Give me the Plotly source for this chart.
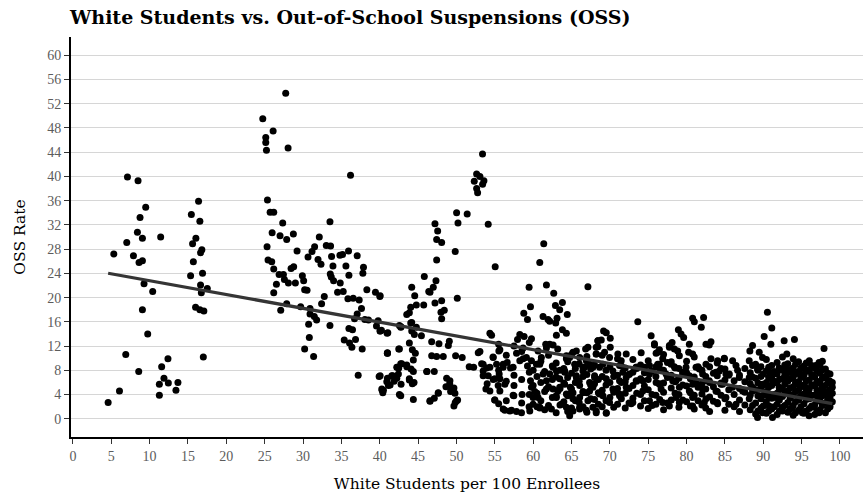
import numpy as np
import plotly.graph_objects as go

# Districts with few white students (under 20 per 100)
white_low = [7.11, 8.49, 9.49, 8.75, 8.41, 9.06, 7.02, 5.33, 7.89, 8.62,
             9.06, 11.44, 9.27, 10.40, 9.06, 9.75, 6.89, 8.58, 11.57, 12.39,
             11.87, 11.27, 12.44, 13.69, 13.43, 11.27, 6.07, 4.59,
             16.38, 15.44, 16.55, 16.03, 15.60, 16.81, 16.64, 15.70, 15.34, 16.90,
             16.64, 17.52, 16.74, 15.99, 16.55, 17.07, 17.00]
oss_low = [39.9, 39.3, 34.9, 33.2, 30.8, 29.8, 29.1, 27.2, 26.9, 25.8,
           26.1, 30.0, 22.3, 21.0, 18.0, 14.0, 10.6, 7.8, 8.6, 9.9,
           6.7, 5.7, 5.9, 6.0, 4.7, 3.9, 4.6, 2.7,
           35.9, 33.7, 32.6, 29.8, 28.9, 27.9, 27.4, 25.9, 23.6, 24.0,
           22.1, 21.5, 20.8, 18.4, 18.0, 17.8, 10.2]

# Districts between roughly 24 and 43 white students per 100
white_mid1 = [27.74, 24.75, 26.10, 25.14, 25.14, 25.23, 28.05, 36.19, 25.36, 25.71,
              26.18, 27.35, 25.97, 27.00, 27.87, 28.74, 25.31, 29.22, 25.44, 25.92,
              26.18, 28.44, 28.78, 26.88, 27.44, 27.57, 28.09, 26.53, 29.00, 26.18,
              27.87, 27.09, 29.69, 29.91, 30.08, 30.21, 30.52, 30.65, 31.17, 31.51,
              32.12, 31.95, 32.34, 33.51, 33.03, 33.59, 33.72, 34.81, 35.15, 35.93,
              37.06, 33.90, 35.59, 37.88, 37.80, 33.55, 33.68, 33.98, 35.98, 34.85,
              34.50, 35.24, 38.32, 39.44, 40.01, 32.77, 35.85, 36.54, 37.32, 32.42,
              37.62, 37.06, 36.71, 38.06, 38.53, 39.79, 30.91, 30.91, 31.47, 31.77,
              30.73, 33.51, 35.98, 36.45, 39.57, 40.05, 41.05, 42.56, 30.82, 35.37,
              36.06, 36.84, 36.37, 37.71, 30.21, 31.38, 41.00, 42.48, 37.19, 39.92,
              40.92, 41.57, 40.27, 40.40, 41.13, 42.22, 42.48, 42.56]
oss_mid1 = [53.7, 49.5, 47.5, 46.4, 45.6, 44.3, 44.7, 40.2, 36.1, 34.1,
            34.1, 32.3, 30.7, 30.2, 29.6, 30.5, 28.4, 27.7, 26.2, 25.9,
            24.7, 24.8, 25.1, 23.8, 23.8, 23.0, 22.4, 22.2, 22.4, 20.8,
            19.0, 17.9, 18.5, 23.6, 22.8, 21.3, 21.2, 26.7, 27.6, 28.4,
            30.0, 26.3, 25.5, 32.5, 28.6, 28.5, 26.8, 27.0, 27.1, 27.7,
            26.9, 25.2, 25.2, 25.0, 24.0, 23.9, 23.4, 22.8, 23.7, 22.4,
            20.9, 21.0, 21.3, 20.9, 20.2, 20.2, 19.8, 19.9, 19.6, 19.0,
            18.2, 17.3, 16.5, 16.4, 16.3, 16.2, 18.2, 17.3, 16.9, 16.3,
            15.6, 15.4, 14.9, 14.7, 15.3, 14.5, 14.2, 15.4, 13.4, 13.0,
            12.5, 13.1, 11.8, 11.5, 11.5, 10.3, 10.8, 11.5, 7.2, 7.0,
            6.1, 7.1, 4.9, 4.3, 5.5, 6.7, 8.4, 4.0]

# Districts between roughly 40 and 68 white students per 100
white_mid2 = [53.40, 52.63, 52.32, 53.06, 53.58, 53.41, 52.63, 52.76, 50.02, 51.40,
              50.20, 54.14, 47.20, 47.55, 47.42, 48.07, 49.84, 47.42, 55.05, 45.81,
              47.33, 46.98, 46.39, 44.17, 44.56, 50.11, 40.05, 44.04, 44.77, 45.73,
              47.20, 48.07, 43.52, 43.86, 48.41, 47.98, 48.07, 44.04, 42.74, 40.22,
              40.96, 44.17, 44.51, 45.43, 44.77, 43.86, 46.77, 47.72, 48.94, 49.07,
              41.00, 42.56, 44.25, 46.77, 47.42, 48.28, 49.89, 50.75, 42.74, 44.38,
              42.30, 43.52, 44.38, 46.16, 47.11, 51.66, 52.24, 52.84, 40.05, 41.00,
              41.87, 42.78, 43.86, 44.47, 48.72, 49.12, 49.67, 49.24, 40.31, 42.74,
              44.38, 46.55, 47.11, 47.63, 49.84, 50.15, 53.28, 53.48, 53.93, 54.36,
              54.58, 55.53, 54.14, 54.79, 55.57, 55.44, 56.09, 54.99, 56.31, 57.18,
              57.83, 58.48, 57.48, 58.56, 57.96, 58.26, 57.83, 56.61, 57.05, 58.69,
              59.26, 59.65, 59.78, 59.99, 60.86, 59.47, 58.82, 59.47, 59.65, 58.78,
              59.26, 60.86, 61.38, 61.73, 62.68, 61.29, 61.94, 62.90, 63.46, 63.81,
              64.45, 63.11, 62.94, 63.81, 64.33, 63.03, 67.14, 61.64, 62.16, 63.20,
              64.33, 65.63, 66.84, 68.44, 68.44, 60.86, 61.29, 61.73, 62.59, 63.03,
              63.68, 64.33, 65.19, 66.06, 66.93, 67.79, 64.33, 65.19, 66.06, 67.14,
              63.46, 64.11, 64.85, 66.06, 67.36, 68.01, 66.49, 66.93, 65.41, 62.59,
              68.22, 67.79,
              46.55, 40.05, 44.17, 42.78, 41.00, 44.64, 42.87, 43.52, 42.22, 44.08,
              46.12, 41.70, 42.43, 41.35, 43.86, 44.25, 49.15, 48.63, 49.37, 49.80,
              50.02, 49.67, 46.55, 47.63, 40.48, 53.48, 54.00, 54.36, 55.00, 53.84,
              55.00, 54.79, 55.23, 53.48, 54.36,
              62.16, 59.78, 62.60, 53.06, 55.66, 54.77, 58.69, 59.12, 60.64, 61.07,
              61.73, 64.76, 66.06, 56.09, 57.39, 58.26, 59.78, 60.43, 62.16, 63.03,
              64.11, 65.63, 66.71, 55.66, 56.31, 55.66, 57.39, 60.21, 60.64, 60.86,
              59.99, 59.56, 56.09, 56.96, 61.73, 63.24, 64.76, 66.49, 62.38]
oss_mid2 = [43.7, 40.4, 39.2, 40.0, 39.3, 38.7, 38.0, 37.3, 34.0, 33.8,
            32.3, 32.1, 32.2, 31.0, 29.6, 29.1, 27.6, 26.2, 25.1, 23.5,
            22.8, 21.7, 21.0, 21.7, 20.3, 19.9, 20.3, 18.4, 18.8, 18.8,
            19.1, 19.5, 17.2, 17.5, 17.9, 17.6, 16.5, 15.8, 15.1, 14.6,
            14.1, 14.5, 13.9, 13.7, 15.1, 12.5, 12.7, 12.4, 12.1, 12.8,
            10.9, 11.5, 11.4, 10.4, 10.3, 10.3, 10.4, 10.1, 9.1, 9.7,
            8.5, 8.6, 7.8, 7.8, 7.8, 8.6, 8.5, 10.9, 7.1, 6.7,
            6.2, 5.7, 6.4, 6.0, 6.7, 5.8, 5.1, 4.5, 4.7, 3.8,
            3.2, 2.9, 3.4, 4.2, 2.7, 3.1, 9.1, 7.9, 8.4, 14.1,
            13.8, 11.2, 7.1, 6.5, 7.4, 5.5, 9.0, 3.1, 1.4, 1.4,
            1.2, 1.0, 3.8, 4.0, 13.1, 13.9, 10.8, 9.3, 8.4, 9.9,
            8.7, 6.3, 5.2, 3.5, 1.8, 2.0, 13.6, 21.7, 18.5, 17.4,
            16.4, 25.8, 28.9, 22.1, 20.7, 16.9, 16.4, 18.7, 18.0, 19.2,
            17.2, 16.6, 15.8, 14.7, 14.1, 13.8, 21.8, 12.3, 12.3, 11.5,
            10.4, 11.2, 11.5, 12.9, 11.9, 9.0, 7.4, 6.3, 4.9, 3.5,
            2.4, 1.9, 1.3, 1.6, 1.4, 1.9, 4.1, 3.3, 3.5, 3.0,
            6.6, 5.7, 5.2, 5.5, 6.0, 7.1, 7.9, 9.6, 9.0, 8.5,
            10.7, 8.5,
            20.9, 14.5, 15.9, 15.2, 10.8, 10.8, 9.1, 8.9, 8.5, 8.2,
            7.8, 7.1, 7.4, 5.6, 6.6, 5.8, 6.3, 5.3, 4.9, 4.2,
            3.0, 2.1, 3.0, 4.3, 4.7, 7.1, 5.8, 4.6, 3.1, 4.9,
            6.6, 10.1, 9.0, 9.0, 8.5,
            16.1, 13.2, 12.2, 11.1, 11.4, 10.2, 11.7, 10.1, 11.2, 10.1,
            11.7, 10.1, 10.1, 8.5, 8.5, 9.6, 9.6, 9.0, 7.4, 7.9,
            7.9, 7.1, 8.5, 6.6, 5.7, 4.6, 3.9, 4.5, 3.5, 1.9,
            2.4, 1.3, 1.6, 1.3, 4.9, 4.6, 4.1, 4.3, 1.6]

# Districts between roughly 63 and 86 white students per 100
white_high1 = [73.64, 80.79, 82.22, 81.01, 81.92, 69.18, 69.53, 70.05, 75.38, 78.93,
               79.28, 79.62, 68.44, 83.18, 82.96, 78.11, 75.81, 68.22, 70.05, 77.76,
               80.36, 78.84, 76.46, 69.31, 71.04, 72.13, 74.08, 76.03, 80.27, 80.79,
               79.06, 84.92, 69.96, 71.48, 76.89, 83.18, 84.05, 73.43, 74.51, 76.24,
               77.98, 81.23, 82.53, 67.36, 68.66, 70.39, 71.69, 72.56, 75.16, 77.33,
               79.49, 80.36, 82.09, 83.83, 85.13, 68.01, 69.53, 71.26, 73.43, 76.03,
               78.19, 81.23, 82.96, 84.49, 67.79, 70.39, 72.13, 74.29, 76.68, 79.06,
               80.36, 82.09, 83.83, 68.66, 71.26, 72.99, 75.16, 76.89, 77.76, 79.06,
               80.79, 82.31, 84.05, 69.96, 68.22, 69.53, 72.78,
               75.81, 77.76, 78.41, 82.53, 76.24, 68.88, 64.33, 65.19, 67.14, 68.22,
               66.49, 69.09, 71.26, 73.43, 75.16, 76.46, 78.41, 79.93, 81.66, 64.11,
               65.63, 72.13, 74.29, 76.46, 78.63, 80.79, 82.53, 63.46, 65.19, 67.36,
               69.09, 71.26, 78.63, 80.79, 82.53, 66.06, 68.22, 69.53, 64.76]
oss_high1 = [16.0, 16.6, 16.7, 16.0, 15.1, 14.5, 14.2, 13.3, 13.7, 14.7,
             14.0, 13.4, 12.9, 12.7, 12.2, 12.6, 12.2, 11.8, 11.8, 11.8,
             12.3, 11.2, 11.4, 11.0, 10.7, 10.7, 10.9, 10.8, 11.0, 10.7,
             10.4, 10.0, 10.1, 9.6, 9.9, 9.9, 9.6, 8.5, 8.5, 9.0,
             9.0, 8.5, 9.0, 9.0, 8.5, 7.9, 7.7, 7.4, 7.4, 7.4,
             7.7, 7.1, 7.4, 7.7, 7.4, 6.8, 6.6, 6.3, 6.3, 6.0,
             6.3, 6.0, 6.3, 5.7, 5.2, 4.9, 5.2, 4.6, 4.9, 5.2,
             4.6, 4.9, 4.6, 4.1, 3.8, 2.7, 3.0, 2.7, 2.1, 2.7,
             2.1, 2.7, 2.5, 2.7, 1.0, 0.9, 2.5,
             12.4, 12.1, 11.5, 12.3, 11.0, 13.0, 9.9, 11.0, 11.8, 10.7,
             8.5, 9.0, 8.8, 8.5, 8.8, 9.0, 8.6, 8.5, 8.2, 7.7,
             6.8, 6.8, 6.3, 5.7, 6.3, 5.7, 6.3, 5.2, 4.3, 4.6,
             3.8, 4.1, 3.5, 3.5, 3.3, 1.9, 1.3, 1.0, 0.5]

# Districts with the most white students (84 and up)
white_high2 = [90.54, 91.11, 90.12, 90.99, 92.72, 94.06, 93.07, 97.92, 88.60, 88.25,
               89.47, 89.90, 84.92, 86.00, 86.44, 86.65, 88.17, 88.60, 89.25, 97.27,
               97.70, 96.84, 95.75, 84.27, 85.57, 86.87, 88.17, 90.77, 92.07, 92.93,
               93.80, 94.89, 96.40, 98.14, 99.00, 98.57, 84.70, 86.00, 87.30, 88.60,
               89.90, 91.20, 92.07, 92.93, 94.23, 95.53, 96.84, 97.70, 85.13, 86.44,
               88.17, 89.47, 90.77, 91.63, 93.37, 94.67, 95.97, 97.27, 98.57, 90.77,
               89.90, 89.25, 91.20, 92.50, 93.80, 95.10, 95.97, 96.62, 97.27, 98.57]
oss_high2 = [17.6, 15.0, 13.6, 12.3, 12.9, 13.1, 10.7, 11.6, 12.1, 11.2,
             11.0, 10.1, 9.9, 9.6, 8.8, 8.0, 9.6, 8.8, 8.2, 9.3,
             9.5, 8.8, 8.0, 7.9, 7.4, 6.8, 6.8, 7.7, 8.4, 8.5,
             7.7, 7.4, 7.1, 6.8, 5.2, 6.3, 5.7, 5.2, 4.6, 5.2,
             5.7, 6.3, 5.2, 6.3, 5.7, 5.2, 5.7, 4.6, 3.5, 2.4,
             3.3, 3.8, 4.1, 3.5, 4.1, 3.5, 4.1, 3.5, 3.8, 2.1,
             1.0, 0.2, 0.2, 1.3, 1.9, 1.0, 0.5, 1.9, 1.0, 1.9]

# Tightly packed districts, 55 to 86 white students per 100
white_pack1 = [60.0, 60.0, 61.0, 61.0, 61.0, 62.0, 62.0, 62.0, 63.0, 63.0,
               63.0, 63.0, 64.0, 64.0, 64.0, 65.0, 65.0, 65.0, 65.0, 66.0,
               66.0, 66.0, 67.0, 67.0, 67.0, 67.0, 68.0, 68.0, 68.0, 69.0,
               69.0, 69.0, 69.0, 70.0, 70.0, 70.0, 71.0, 71.0, 71.0, 71.0,
               72.0, 72.0, 72.0, 72.0, 73.0, 73.0, 73.0, 73.0, 74.0, 74.0,
               74.0, 74.0, 75.0, 75.0, 75.0, 75.0, 76.0, 76.0, 76.0, 76.0,
               77.0, 77.0, 77.0, 77.0, 77.0, 78.0, 78.0, 78.0, 78.0, 79.0,
               79.0, 79.0, 79.0, 80.0, 80.0, 80.0, 80.0, 81.0, 81.0, 81.0,
               81.0, 82.0, 82.0, 82.0, 82.0, 83.0, 83.0, 83.0, 83.0, 84.0,
               84.0, 84.0, 84.0, 85.0, 85.0, 85.0, 85.0,
               60.5, 60.5, 60.5, 61.5, 61.5, 61.5, 62.5, 62.5, 62.5, 63.5,
               63.5, 63.5, 64.5, 64.5, 64.5, 64.5, 65.5, 65.5, 65.5, 66.5,
               66.5, 66.5, 67.5, 67.5, 67.5, 68.5, 68.5, 68.5, 69.5, 69.5,
               69.5, 70.5, 70.5, 70.5, 71.5, 71.5, 71.5, 72.5, 72.5, 72.5,
               73.5, 73.5, 73.5, 74.5, 74.5, 74.5, 75.5, 75.5, 75.5, 76.5,
               76.5, 76.5, 77.5, 77.5, 77.5, 78.5, 78.5, 78.5, 79.5, 79.5,
               79.5, 80.5, 80.5, 80.5, 81.5, 81.5, 81.5, 82.5, 82.5, 82.5,
               83.5, 83.5, 83.5, 84.5, 84.5, 84.5, 85.5, 85.5, 85.5,
               55.5, 55.5, 55.5, 56.5, 56.5, 56.5, 57.5, 57.5, 57.5, 58.5,
               58.5, 58.5, 59.5, 59.5, 59.5]
oss_pack1 = [5.5, 8.0, 3.0, 6.0, 9.5, 2.2, 5.3, 10.5, 1.0, 3.8,
             6.9, 9.2, 2.8, 5.9, 8.3, 1.8, 4.9, 7.5, 10.6, 2.7,
             6.2, 9.1, 1.1, 4.3, 7.3, 10.3, 3.2, 5.8, 8.9, 2.0,
             4.7, 7.0, 10.5, 3.5, 6.0, 8.6, 2.4, 5.0, 7.2, 9.9,
             1.8, 4.2, 6.1, 8.4, 3.4, 5.5, 7.7, 9.8, 2.1, 4.0,
             6.6, 8.9, 1.7, 4.8, 6.5, 9.6, 2.4, 3.9, 7.0, 8.6,
             1.5, 4.4, 5.9, 8.0, 10.6, 3.1, 5.1, 7.2, 9.4, 1.9,
             4.0, 6.7, 8.3, 2.8, 5.4, 7.6, 9.5, 1.6, 3.9, 6.9,
             10.2, 2.3, 4.1, 5.8, 8.0, 1.2, 3.6, 6.0, 8.6, 2.7,
             4.5, 7.1, 9.2, 1.4, 3.3, 6.4, 8.2,
             2.0, 4.2, 7.0, 1.5, 4.5, 7.8, 3.5, 6.5, 8.7, 2.3,
             5.0, 8.0, 1.2, 3.8, 6.8, 9.4, 3.0, 6.0, 8.3, 2.0,
             4.5, 7.0, 3.3, 5.6, 8.2, 2.4, 4.3, 6.5, 3.0, 5.6,
             8.0, 1.9, 4.4, 7.0, 3.3, 6.0, 8.7, 2.6, 5.0, 7.3,
             4.2, 6.2, 8.3, 3.0, 5.4, 7.6, 2.2, 4.0, 7.9, 3.2,
             5.8, 8.2, 2.6, 6.8, 9.3, 4.2, 6.1, 8.4, 3.1, 5.6,
             7.3, 2.1, 4.3, 6.6, 3.0, 5.2, 8.6, 1.8, 4.9, 7.0,
             2.9, 5.3, 7.5, 3.9, 5.9, 8.3, 2.4, 4.8, 7.2,
             2.5, 8.0, 12.3, 3.0, 6.2, 10.5, 5.5, 7.2, 12.0, 2.6,
             6.5, 11.1, 4.0, 7.7, 12.6]

# Tightly packed districts, 86 to 99 white students per 100
white_pack2 = [86.2, 86.2, 86.2, 86.9, 86.9, 86.9, 86.9, 87.6, 87.6, 87.6,
               87.6, 88.3, 88.3, 88.3, 88.3, 89.0, 89.0, 89.0, 89.0, 89.0,
               89.7, 89.7, 89.7, 89.7, 89.7, 90.4, 90.4, 90.4, 90.4, 90.4,
               90.4, 91.1, 91.1, 91.1, 91.1, 91.1, 91.8, 91.8, 91.8, 91.8,
               91.8, 91.8, 92.5, 92.5, 92.5, 92.5, 92.5, 92.5, 93.2, 93.2,
               93.2, 93.2, 93.2, 93.2, 93.9, 93.9, 93.9, 93.9, 93.9, 93.9,
               93.9, 94.6, 94.6, 94.6, 94.6, 94.6, 94.6, 95.3, 95.3, 95.3,
               95.3, 95.3, 95.3, 96.0, 96.0, 96.0, 96.0, 96.0, 96.0, 96.7,
               96.7, 96.7, 96.7, 96.7, 96.7, 97.4, 97.4, 97.4, 97.4, 97.4,
               97.4, 98.1, 98.1, 98.1, 98.1, 98.1, 98.1, 98.7, 98.7, 98.7,
               98.7, 98.7,
               88.6, 88.6, 88.6, 89.3, 89.3, 89.3, 89.3, 90.0, 90.0, 90.0,
               90.0, 90.7, 90.7, 90.7, 90.7, 90.7, 91.4, 91.4, 91.4, 91.4,
               92.1, 92.1, 92.1, 92.1, 92.1, 92.8, 92.8, 92.8, 92.8, 92.8,
               93.5, 93.5, 93.5, 93.5, 93.5, 94.2, 94.2, 94.2, 94.2, 94.2,
               94.2, 94.9, 94.9, 94.9, 94.9, 94.9, 95.6, 95.6, 95.6, 95.6,
               95.6, 95.6, 96.3, 96.3, 96.3, 96.3, 96.3, 97.0, 97.0, 97.0,
               97.0, 97.0, 97.7, 97.7, 97.7, 97.7, 97.7, 98.4, 98.4, 98.4,
               98.4, 98.4, 99.0, 99.0, 99.0]
oss_pack2 = [2.0, 4.0, 6.3, 1.2, 3.1, 5.0, 7.2, 2.3, 4.4, 6.1,
             8.3, 1.5, 3.9, 5.8, 7.6, 0.8, 2.6, 4.8, 6.7, 9.0,
             1.8, 3.3, 5.1, 7.0, 8.6, 0.9, 2.8, 4.5, 6.0, 7.9,
             9.8, 1.6, 3.4, 5.5, 6.9, 8.8, 0.7, 2.4, 4.2, 5.9,
             7.4, 9.3, 1.9, 3.7, 5.0, 6.6, 8.0, 10.2, 1.1, 2.7,
             4.6, 6.2, 7.6, 9.1, 0.6, 2.2, 3.9, 5.3, 6.9, 8.4,
             9.9, 1.4, 3.1, 4.7, 6.1, 7.8, 9.4, 0.9, 2.5, 4.1,
             5.6, 7.2, 8.7, 1.7, 3.3, 4.9, 6.4, 8.1, 9.6, 0.7,
             2.3, 3.9, 5.4, 6.9, 8.4, 1.5, 3.0, 4.4, 5.9, 7.5,
             8.9, 1.0, 2.6, 4.1, 5.5, 7.0, 8.2, 2.0, 3.6, 4.8,
             6.2, 7.4,
             2.2, 4.6, 6.9, 1.3, 3.8, 5.9, 8.0, 2.1, 3.9, 5.6,
             7.4, 1.3, 3.6, 5.2, 6.8, 8.5, 2.0, 4.0, 6.2, 7.8,
             1.3, 3.1, 4.8, 6.5, 8.3, 2.2, 4.1, 5.7, 7.2, 8.9,
             1.6, 3.4, 5.1, 6.6, 8.1, 1.0, 2.8, 4.5, 6.0, 7.4,
             9.0, 2.0, 3.8, 5.3, 6.8, 8.4, 1.3, 3.2, 4.6, 6.3,
             7.8, 9.2, 2.1, 3.9, 5.6, 7.3, 8.8, 1.1, 2.9, 4.7,
             6.2, 7.9, 2.2, 3.8, 5.2, 6.7, 8.1, 1.6, 3.2, 4.5,
             5.9, 7.5, 2.8, 4.2, 6.0]

x_groups = [white_low, white_mid1, white_mid2, white_high1, white_high2, white_pack1, white_pack2]
y_groups = [oss_low, oss_mid1, oss_mid2, oss_high1, oss_high2, oss_pack1, oss_pack2]
for xs, ys in zip(x_groups, y_groups):
    assert len(xs) == len(ys), (len(xs), len(ys))

white = np.concatenate([np.asarray(g, dtype=float) for g in x_groups])
oss = np.concatenate([np.asarray(g, dtype=float) for g in y_groups])

# Least-squares trend line across all districts
slope, intercept = np.polyfit(white, oss, 1)
fit_x = np.array([white.min(), white.max()])
fit_y = intercept + slope * fit_x

x_ticks = list(range(0, 101, 5))
y_ticks = list(range(0, 61, 4))

serif = "DejaVu Serif, Liberation Serif, serif"
tick_serif = "Liberation Serif, DejaVu Serif, serif"

fig = go.Figure()
fig.add_trace(go.Scatter(
    x=white, y=oss, mode="markers",
    marker=dict(color="black", size=7, line=dict(width=0)),
    hoverinfo="x+y", showlegend=False,
))
fig.add_trace(go.Scatter(
    x=fit_x, y=fit_y, mode="lines",
    line=dict(color="#353535", width=3.2),
    hoverinfo="skip", showlegend=False,
))

fig.update_layout(
    width=865, height=499,
    margin=dict(l=71, r=2, t=37, b=62),
    paper_bgcolor="white", plot_bgcolor="white",
    font=dict(family=serif, color="black"),
    title=dict(
        text="<b>White Students vs. Out-of-School Suspensions (OSS)</b>",
        x=70 / 865, xanchor="left", xref="container",
        y=1 - 17 / 499, yanchor="middle", yref="container",
        font=dict(family=serif, size=19, color="black"),
    ),
)
fig.update_xaxes(
    range=[-0.25, 103.0],
    tickmode="array", tickvals=x_ticks, ticktext=[str(t) for t in x_ticks],
    showgrid=False, zeroline=False,
    showline=True, linecolor="black", linewidth=2,
    ticks="outside", ticklen=5, tickwidth=1, tickcolor="#333333",
    tickfont=dict(family=tick_serif, size=14, color="#5c5c5c"),
    title=dict(text="White Students per 100 Enrollees",
               font=dict(family=serif, size=15.5, color="black"), standoff=15),
)
fig.update_yaxes(
    range=[-3.0, 63.0],
    tickmode="array", tickvals=y_ticks, ticktext=[str(t) for t in y_ticks],
    showgrid=True, gridcolor="#d6d6d6", gridwidth=1, zeroline=False,
    showline=True, linecolor="black", linewidth=2,
    ticks="outside", ticklen=5, tickwidth=1, tickcolor="#333333",
    tickfont=dict(family=tick_serif, size=14, color="#5c5c5c"),
    title=dict(text="OSS Rate", font=dict(family=serif, size=15.5, color="black"), standoff=18),
)

fig.write_html("out.html")
